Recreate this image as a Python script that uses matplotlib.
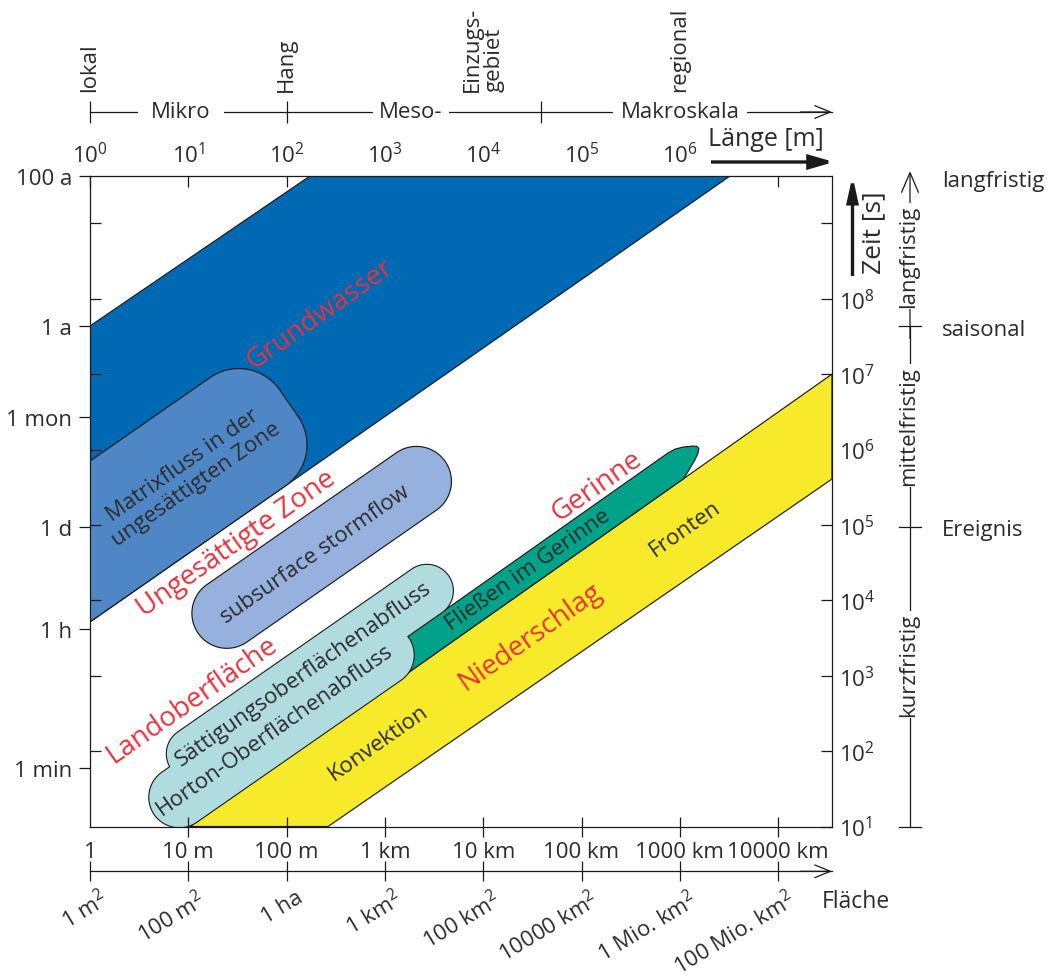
import numpy as np
import matplotlib
matplotlib.use("Agg")
import matplotlib.pyplot as plt
from matplotlib.patches import Polygon, FancyArrowPatch
from matplotlib.ticker import FixedLocator, NullLocator, NullFormatter
import matplotlib.transforms as mtrans

plt.rcParams['font.family'] = ['Open Sans', 'DejaVu Sans']
plt.rcParams['mathtext.fontset'] = 'custom'
plt.rcParams['mathtext.rm'] = 'Open Sans'
plt.rcParams['mathtext.it'] = 'Open Sans'
plt.rcParams['mathtext.bf'] = 'Open Sans'
plt.rcParams['mathtext.default'] = 'regular'

# ---------------- data ----------------
length_ticks_m = [1, 1e1, 1e2, 1e3, 1e4, 1e5, 1e6, 1e7]
length_labels = ["1", "10 m", "100 m", "1 km", "10 km", "100 km", "1000 km", "10000 km"]
power_labels = [r"$10^{0}$", r"$10^{1}$", r"$10^{2}$", r"$10^{3}$", r"$10^{4}$",
                r"$10^{5}$", r"$10^{6}$", ""]
area_labels = ["1 m$^{2}$", "100 m$^{2}$", "1 ha", "1 km$^{2}$", "100 km$^{2}$",
               "10000 km$^{2}$", "1 Mio. km$^{2}$", "100 Mio. km$^{2}$"]
length_max_m = 3.53e7

time_label_s = [60, 4.1e3, 9.5e4, 2.7e6, 4.35e7, 4.24e9]
time_labels = ["1 min", "1 h", "1 d", "1 mon", "1 a", "100 a"]
time_decades_s = [1e1, 1e2, 1e3, 1e4, 1e5, 1e6, 1e7, 1e8, 1e9]
time_decade_labels = [r"$10^{1}$", r"$10^{2}$", r"$10^{3}$", r"$10^{4}$", r"$10^{5}$",
                      r"$10^{6}$", r"$10^{7}$", r"$10^{8}$", ""]

scale_bounds_m = [1, 100, 3.9e4]
scale_names = ["Mikro", "Meso-", "Makroskala"]
place_m = [1, 100, 1e4, 1e6]
place_names = ["lokal", "Hang", "Einzugs-\ngebiet", "regional"]

duration_bounds_s = [10, 9.5e4, 4.35e7]
duration_marks = ["Ereignis", "saisonal", "langfristig"]
duration_mark_s = [9.5e4, 4.35e7, 4.24e9]
duration_names = ["kurzfristig", "mittelfristig", "langfristig"]

# process regions (length in m, time in s)
grundwasser_len = [1, 173, 3.24e6, 1]
grundwasser_time = [4.35e7, 4.24e9, 4.24e9, 5150]
niederschlag_len = [10.4, 3.53e7, 3.53e7, 264]
niederschlag_time = [10, 1.0e7, 4.06e5, 10]
matrix_len = [0.0138, 105.5]
matrix_time = [1240, 4.12e6]
storm_len = [12.6, 4100]
storm_time = [3650, 6.95e5]
saett_len = [6.75, 4400]
saett_time = [58.6, 2.1e4]
horton_len = [4.55, 1730]
horton_time = [14.5, 3160]
gerinne_len = [670, 1.1e6]

# ---------------- styles ----------------
W, H = 1052, 978
TXT = '#2b2b2b'
RED = '#e8323b'
EDGE = '#1a1a1a'
C_GW = '#0069b4'
C_MATRIX = '#4f87c6'
C_STORM = '#96b1dd'
C_CYAN = '#b0dce0'
C_TEAL = '#00a389'
C_YEL = '#f7ea2a'
FS = 16

fig = plt.figure(figsize=(W / 100, H / 100), dpi=100)
ax = fig.add_axes([90 / W, 1 - 827.5 / H, 742 / W, 650.5 / H])
ax.set_xscale('log')
ax.set_yscale('log')
ax.set_xlim(1, length_max_m)
ax.set_ylim(10, time_label_s[-1])


def F(px, py):
    return (px / W, 1 - py / H)


def to_data(disp):
    return ax.transData.inverted().transform(disp)


def frame(lens, times):
    P = ax.transData.transform(np.column_stack([lens, times]))
    d = P[1] - P[0]
    L = np.hypot(*d)
    d = d / L
    nv = np.array([-d[1], d[0]])
    return P[0], d, nv, L


def rounded_band(lens, times, half_w, radius, n=30):
    P0, d, nv, L = frame(lens, times)
    r = radius
    pts = []
    for ca, cb, t0 in [(L - r, -half_w + r, -90), (L - r, half_w - r, 0),
                       (r, half_w - r, 90), (r, -half_w + r, 180)]:
        t = np.radians(np.linspace(t0, t0 + 90, n))
        pts.append(np.column_stack([ca + r * np.cos(t), cb + r * np.sin(t)]))
    loc = np.vstack(pts)
    disp = P0 + loc[:, [0]] * d + loc[:, [1]] * nv
    return to_data(disp)


def gerinne_shape(thick=30):
    lx = np.log10(niederschlag_len[:2])
    ly = np.log10(niederschlag_time[:2])
    t = 10 ** np.interp(np.log10(gerinne_len), lx, ly)
    P0, d, nv, L = frame(gerinne_len, t)
    k = thick / 31.0
    tip = [(0, 0), (10, 4.5), (20, 9), (27, 13), (30.5, 16.5), (30, 19.5),
           (26, 22.5), (18, 27), (10, 30), (2, 31)]
    loc = [(0, 0)] + [(L + a * k, h * k) for a, h in tip] + [(0, 31 * k)]
    loc = np.array(loc)
    disp = P0 + loc[:, [0]] * d + loc[:, [1]] * nv
    return to_data(disp)


# ---------------- regions ----------------
ax.add_patch(Polygon(np.column_stack([niederschlag_len, niederschlag_time]),
                     closed=True, fc=C_YEL, ec=EDGE, lw=0.85, zorder=0.2))
ax.add_patch(Polygon(gerinne_shape(), closed=True, fc=C_TEAL, ec=EDGE, lw=0.85, zorder=0.3))

cy1 = rounded_band(saett_len, saett_time, 26, 26)
cy2 = rounded_band(horton_len, horton_time, 30, 30)
for poly in (cy1, cy2):
    ax.add_patch(Polygon(poly, closed=True, fc=C_CYAN, ec=EDGE, lw=1.6, zorder=0.4))
for poly in (cy1, cy2):
    ax.add_patch(Polygon(poly, closed=True, fc=C_CYAN, ec='none', lw=0, zorder=0.45))

ax.add_patch(Polygon(rounded_band(storm_len, storm_time, 35, 35), closed=True,
                     fc=C_STORM, ec=EDGE, lw=0.85, zorder=0.5))
ax.add_patch(Polygon(np.column_stack([grundwasser_len, grundwasser_time]),
                     closed=True, fc=C_GW, ec=EDGE, lw=0.85, zorder=0.5))
ax.add_patch(Polygon(rounded_band(matrix_len, matrix_time, 66, 50), closed=True,
                     fc=C_MATRIX, ec=EDGE, lw=0.85, zorder=0.6))

# ---------------- labels inside ----------------
ROT = 35
def lab(x, y, s, color=TXT, size=FS):
    ax.text(10 ** x, 10 ** y, s, color=color, fontsize=size, rotation=ROT,
            rotation_mode='anchor', ha='center', va='center',
            multialignment='center', zorder=5, linespacing=1.15)

lab(2.340, 7.797, "Grundwasser", RED, 20)
lab(1.017, 5.675, "Matrixfluss in der\nungesättigten Zone")
lab(1.495, 4.760, "Ungesättigte Zone", RED, 20)
lab(2.289, 4.614, "subsurface stormflow")
lab(1.038, 2.691, "Landoberfläche", RED, 20)
lab(2.170, 3.030, "Sättigungsoberflächenabfluss")
lab(1.882, 2.293, "Horton-Oberflächenabfluss")
lab(2.930, 2.121, "Konvektion")
lab(4.456, 4.415, "Fließen im Gerinne")
lab(5.158, 5.516, "Gerinne", RED, 20)
lab(4.476, 3.527, "Niederschlag", RED, 20)
lab(6.053, 4.959, "Fronten")

# ---------------- axes / ticks ----------------
for sp in ax.spines.values():
    sp.set_linewidth(0.9)
    sp.set_color(EDGE)

ax.xaxis.set_major_locator(FixedLocator(length_ticks_m))
ax.set_xticklabels(length_labels)
ax.xaxis.set_minor_locator(NullLocator())
ax.xaxis.set_minor_formatter(NullFormatter())
ax.tick_params(axis='x', which='major', direction='inout', length=15, width=0.9,
               pad=3, labelsize=FS, labelcolor=TXT, color=EDGE)

ax.yaxis.set_major_locator(FixedLocator(time_label_s))
ax.set_yticklabels(time_labels)
ax.yaxis.set_minor_locator(FixedLocator(time_decades_s[1:]))
ax.yaxis.set_minor_formatter(NullFormatter())
ax.tick_params(axis='y', which='major', direction='out', length=8, width=0.9,
               pad=5, labelsize=FS, labelcolor=TXT, color=EDGE)
ax.tick_params(axis='y', which='minor', direction='in', length=8, width=0.9, color=EDGE)
ax.xaxis.get_major_ticks()[0].tick1line.set_visible(False)

top = ax.secondary_xaxis('top')
top.set_xticks(length_ticks_m, power_labels)
top.xaxis.set_minor_locator(NullLocator())
top.tick_params(direction='in', length=8, width=0.9, pad=6, labelsize=FS,
                labelcolor=TXT, color=EDGE)
top.spines['top'].set_visible(False)

right = ax.secondary_yaxis('right')
right.set_yticks(time_decades_s, time_decade_labels)
right.yaxis.set_minor_locator(NullLocator())
right.tick_params(direction='in', length=8, width=0.9, pad=5, labelsize=FS,
                  labelcolor=TXT, color=EDGE)
right.spines['right'].set_visible(False)

# Fläche axis
area = ax.secondary_xaxis((827.5 - 872.3) / 650.5)
area.set_xticks(length_ticks_m, [""] * len(length_ticks_m))
area.xaxis.set_minor_locator(NullLocator())
area.tick_params(direction='inout', length=14, width=0.9, color=EDGE)
area.spines['bottom'].set_linewidth(0.9)
area.spines['bottom'].set_color(EDGE)
blend_x = mtrans.blended_transform_factory(ax.transData, fig.transFigure)
for x, s in zip(length_ticks_m, area_labels):
    ax.annotate(s, xy=(x, 1 - 872.3 / H), xycoords=blend_x, xytext=(9, -15),
                textcoords='offset pixels', rotation=31, rotation_mode='anchor',
                ha='right', va='top', fontsize=FS, color=TXT, annotation_clip=False)
fig.text(*F(822, 902), "Fläche", fontsize=FS + 0.5, color=TXT, ha='left', va='center')

# scale line on top
scl = ax.secondary_xaxis(1 + (177 - 113) / 650.5)
scl.set_xticks(scale_bounds_m, [""] * len(scale_bounds_m))
scl.xaxis.set_minor_locator(NullLocator())
scl.tick_params(direction='inout', length=16, width=0.9, color=EDGE)
scl.spines['top'].set_linewidth(0.9)
scl.spines['top'].set_color(EDGE)

for (px, pad), s in zip([(181, 0.6), (411, 0.3), (680, 0.32)], scale_names):
    fig.text(*F(px, 113), s, fontsize=FS, color=TXT, ha='center', va='center',
             bbox=dict(boxstyle='square,pad=%.2f' % pad, fc='white', ec='none'))

for x, s in zip(place_m, place_names):
    ax.text(x, 1 - 92 / H, s, transform=blend_x, rotation=90, ha='center',
            va='bottom', fontsize=FS, color=TXT, multialignment='left',
            linespacing=1.0)


def arrow(p0, p1, style, lw, ms=10):
    fig.add_artist(FancyArrowPatch(F(*p0), F(*p1), transform=fig.transFigure,
                                   arrowstyle=style, lw=lw, color=EDGE,
                                   mutation_scale=ms, shrinkA=0, shrinkB=0,
                                   joinstyle='miter', capstyle='butt'))


arrow((800, 113), (832, 113), '->,head_length=1.15,head_width=0.47', 0.9)
arrow((800, 872.3), (832, 872.3), '->,head_length=1.15,head_width=0.47', 0.9)

# Länge / Zeit
fig.text(*F(766, 139), "Länge [m]", fontsize=18, color=TXT, ha='center', va='center')
arrow((711, 163), (834, 163), '-|>,head_length=1.45,head_width=0.42', 2.4)
fig.text(*F(874, 233), "Zeit [s]", fontsize=19, color=TXT, ha='center', va='center',
         rotation=90)
arrow((852.5, 277), (852.5, 177), '-|>,head_length=1.45,head_width=0.32', 2.4)

# right time-scale bar
blend_y = mtrans.blended_transform_factory(fig.transFigure, ax.transData)
xb = 910 / W
ax.plot([xb, xb], [duration_bounds_s[0], duration_bounds_s[-1]], transform=blend_y,
        color=EDGE, lw=0.9, clip_on=False, zorder=1)
arrow((910, 340), (910, 172), '->,head_length=1.45,head_width=0.62', 0.9)
for t in duration_bounds_s:
    ax.plot([xb - 11 / W, xb + 11 / W], [t, t], transform=blend_y, color=EDGE,
            lw=0.9, clip_on=False, zorder=1)
for s, t, dy in zip(duration_marks, duration_mark_s, [3, 4, 5]):
    ax.annotate(s, xy=(942 / W, t), xycoords=blend_y, xytext=(0, -dy),
                textcoords='offset pixels', fontsize=FS, color=TXT,
                ha='left', va='center', annotation_clip=False)
for s, py in zip(duration_names, [665.5, 426.5, 257]):
    fig.text(*F(909, py), s, fontsize=FS, color=TXT, ha='center', va='center',
             rotation=90, bbox=dict(boxstyle='square,pad=0.08', fc='white', ec='none'),
             zorder=3)

fig.savefig("out.png", dpi=100)
